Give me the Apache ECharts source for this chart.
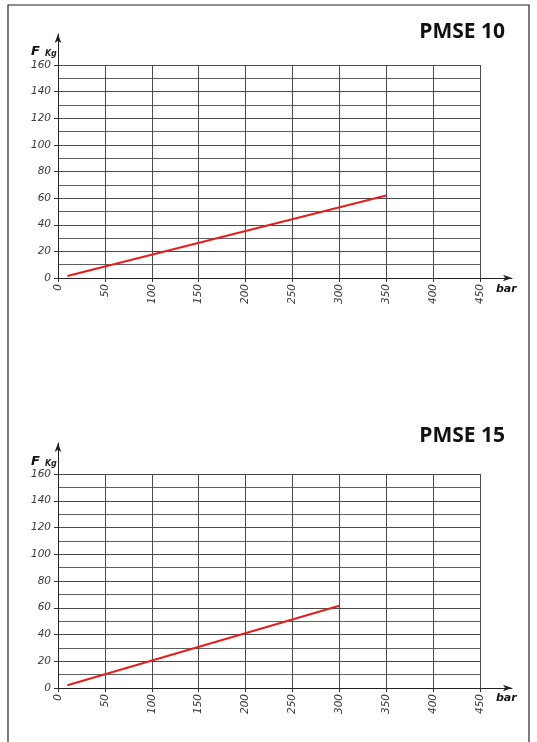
<!DOCTYPE html>
<html>
<head>
<meta charset="utf-8">
<script src="https://cdn.jsdelivr.net/npm/echarts@6/dist/echarts.min.js"></script>
<style>
  html, body { margin: 0; padding: 0; background: #fff; }
  #main { width: 537px; height: 742px; }
</style>
</head>
<body>
<div id="main"></div>
<script>
// data (pressure in bar, force in kg)
const pmse10Bar = [10, 350];
const pmse10Kg = [1.5, 62];
const pmse15Bar = [10, 300];
const pmse15Kg = [2, 61.5];
const xTicks = [0, 50, 100, 150, 200, 250, 300, 350, 400, 450];
const yTicks = [0, 20, 40, 60, 80, 100, 120, 140, 160];

const chart = echarts.init(document.getElementById('main'), null, { renderer: 'canvas' });

const labelFont = { fontFamily: 'DejaVu Sans', fontStyle: 'italic', fontSize: 10.5, color: '#3a3a3a' };
const gridColor = '#4a4a4a';

function plotX(gi) {
  return {
    gridIndex: gi, type: 'value', min: xTicks[0], max: xTicks[xTicks.length - 1], interval: 50,
    axisLine: { show: true, onZero: false, lineStyle: { color: '#222', width: 1 } },
    axisTick: { show: true, length: 4, lineStyle: { color: '#333' } },
    axisLabel: Object.assign({ rotate: 90, margin: 6 }, labelFont),
    splitLine: { show: true, lineStyle: { color: gridColor, width: 1 } }
  };
}
function plotY(gi) {
  return {
    gridIndex: gi, type: 'value', min: yTicks[0], max: yTicks[yTicks.length - 1], interval: 20,
    axisLine: { show: true, onZero: false, lineStyle: { color: '#222', width: 1 } },
    axisTick: { show: true, length: 4, lineStyle: { color: '#333' } },
    axisLabel: Object.assign({ margin: 7 }, labelFont),
    splitLine: { show: true, lineStyle: { color: gridColor, width: 1 } },
    minorTick: { show: false, splitNumber: 2 },
    minorSplitLine: { show: true, lineStyle: { color: '#5e5e5e', width: 1 } }
  };
}
// axes that only carry the arrows, a bit longer than the plot
function arrowAxis(gi) {
  return {
    gridIndex: gi, type: 'value', min: 0, max: 1,
    axisLine: { show: true, onZero: false, symbol: ['none', 'arrow'], symbolSize: [5, 9], lineStyle: { color: '#222', width: 1 } },
    axisTick: { show: false }, axisLabel: { show: false }, splitLine: { show: false }
  };
}

function pairs(xs, ys) { return xs.map((x, i) => [x, ys[i]]); }

const fkg = {
  text: '{f|F} {k|Kg}',
  textStyle: {
    rich: {
      f: { fontFamily: 'DejaVu Sans', fontWeight: 'bold', fontStyle: 'italic', fontSize: 13, color: '#111' },
      k: { fontFamily: 'DejaVu Sans', fontStyle: 'italic', fontSize: 8, color: '#222', padding: [4, 0, 0, 0] }
    }
  }
};
const barName = { fontFamily: 'DejaVu Sans', fontWeight: 'bold', fontStyle: 'italic', fontSize: 11, color: '#111' };
const titleStyle = { fontFamily: 'Open Sans', fontWeight: 'bold', fontSize: 21, color: '#111' };

const option = {
  animation: false,
  backgroundColor: '#fff',
  title: [
    { text: 'PMSE 10', right: 27, top: 17, textStyle: titleStyle },
    { text: 'PMSE 15', right: 27, top: 421, textStyle: titleStyle },
    Object.assign({ left: 26, top: 38 }, fkg),
    Object.assign({ left: 26, top: 448 }, fkg),
    { text: 'bar', left: 491, top: 279, textStyle: barName },
    { text: 'bar', left: 491, top: 688, textStyle: barName }
  ],
  grid: [
    { left: 58, right: 57, top: 65, bottom: 464 },
    { left: 58, right: 57, top: 474, bottom: 54 },
    { left: 58, right: 25, top: 34, bottom: 464 },
    { left: 58, right: 25, top: 443, bottom: 54 }
  ],
  xAxis: [plotX(0), plotX(1), arrowAxis(2), arrowAxis(3)],
  yAxis: [plotY(0), plotY(1), arrowAxis(2), arrowAxis(3)],
  series: [
    {
      name: 'PMSE 10', type: 'line', xAxisIndex: 0, yAxisIndex: 0,
      data: pairs(pmse10Bar, pmse10Kg), showSymbol: false,
      lineStyle: { color: '#e41f1b', width: 2 }, z: 5
    },
    {
      name: 'PMSE 15', type: 'line', xAxisIndex: 1, yAxisIndex: 1,
      data: pairs(pmse15Bar, pmse15Kg), showSymbol: false,
      lineStyle: { color: '#e41f1b', width: 2 }, z: 5
    }
  ],
  graphic: [
    // page frame
    { type: 'rect', shape: { x: 8, y: 5, width: 521, height: 760 }, style: { fill: 'none', stroke: '#222', lineWidth: 1.2 }, z: 0 }
  ]
};

chart.setOption(option);
</script>
</body>
</html>
